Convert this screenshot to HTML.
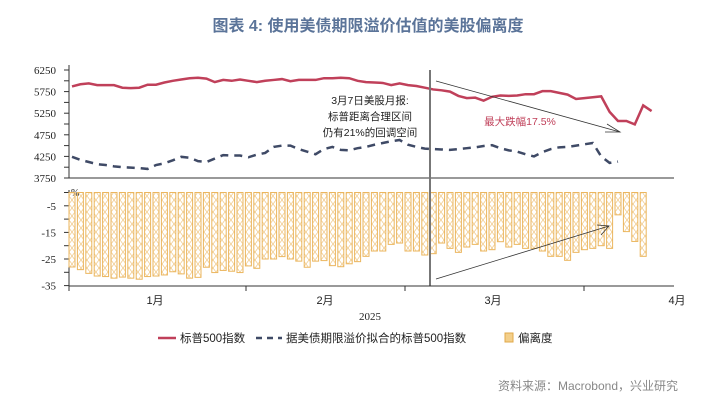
<!DOCTYPE html>
<html><head><meta charset="utf-8">
<style>
html,body{margin:0;padding:0;background:#fff;}
svg{display:block;font-family:"Liberation Serif","Noto Serif CJK SC","Noto Sans CJK SC",serif;}
.cjk{font-family:"Liberation Sans","Noto Sans CJK SC",sans-serif;}
</style></head>
<body>
<svg id="chart" width="727" height="403" viewBox="0 0 727 403">
<defs>
<pattern id="hatch" width="6" height="8" patternUnits="userSpaceOnUse">
<path d="M0,0 L6,8 M6,0 L0,8" stroke="#f0c98a" stroke-width="0.7"/>
</pattern>
</defs>
<text x="368" y="31" text-anchor="middle" class="cjk" font-size="16" font-weight="bold" fill="#5b7499">图表 4:  使用美债期限溢价估值的美股偏离度</text>
<g id="top-axis"></g>
<g id="bottom-axis"></g>
<g id="bars"></g>
<g id="lines"></g>
<line x1="430" y1="70" x2="430" y2="286" stroke="#777" stroke-width="2"/>
<g class="cjk" font-size="10.5" fill="#222" text-anchor="middle">
<text x="370" y="104">3月7日美股月报:</text>
<text x="370" y="120">标普距离合理区间</text>
<text x="370" y="136">仍有21%的回调空间</text>
</g>
<line x1="436" y1="81" x2="620" y2="132" stroke="#333" stroke-width="0.8"/>
<path d="M607,124 L620,132 L605,132" fill="none" stroke="#333" stroke-width="0.8"/>
<text x="520" y="125" text-anchor="middle" class="cjk" font-size="10.5" fill="#c0405a">最大跌幅17.5%</text>
<line x1="436" y1="279" x2="609" y2="226" stroke="#333" stroke-width="0.8"/>
<path d="M597,225 L609,226 L601,235" fill="none" stroke="#333" stroke-width="0.8"/>
<g>
<line x1="69" y1="286" x2="674" y2="286" stroke="#333" stroke-width="1"/>
<line x1="69" y1="286" x2="69" y2="291" stroke="#333"/>
<line x1="246" y1="286" x2="246" y2="291" stroke="#333"/>
<line x1="405" y1="286" x2="405" y2="291" stroke="#333"/>
<line x1="584" y1="286" x2="584" y2="291" stroke="#333"/>
<g font-size="11" fill="#222" text-anchor="middle" class="cjk">
<text x="155" y="304">1月</text><text x="325" y="304">2月</text><text x="493" y="304">3月</text><text x="677" y="304">4月</text>
</g>
<text x="370" y="320" text-anchor="middle" font-size="11" fill="#222">2025</text>
</g>
<g class="cjk" font-size="11.5" fill="#222">
<g><line x1="158" y1="338" x2="176" y2="338" stroke="#c0405a" stroke-width="2.5"/><text x="180" y="342">标普500指数</text></g>
<g><line x1="256" y1="338" x2="282" y2="338" stroke="#3f4a66" stroke-width="2.5" stroke-dasharray="6,5"/><text x="286" y="342">据美债期限溢价拟合的标普500指数</text></g>
<g><rect x="505" y="333" width="8" height="9" fill="#f3cf8a" stroke="#e0a84a"/><text x="518" y="342">偏离度</text></g>
</g>
<text x="678" y="390" text-anchor="end" class="cjk" font-size="12" fill="#888">资料来源：Macrobond，兴业研究</text>
</svg>
<script>
const sp500 = [5870,5920,5940,5900,5900,5900,5840,5830,5840,5910,5910,5960,6000,6030,6060,6070,6050,5970,6020,6000,6030,6000,5970,6000,6020,6040,5990,6020,6020,6020,6060,6060,6070,6060,6000,5970,5960,5950,5900,5940,5900,5880,5840,5800,5780,5750,5650,5600,5610,5540,5630,5660,5650,5660,5690,5690,5760,5760,5720,5680,5580,5600,5620,5640,5280,5070,5070,4990,5430,5300];
const fitted = [4240,4170,4120,4070,4050,4020,4000,3990,3980,3960,4050,4090,4160,4240,4220,4140,4120,4200,4280,4270,4270,4230,4290,4330,4470,4500,4500,4420,4360,4300,4420,4470,4400,4390,4440,4470,4520,4560,4600,4630,4520,4470,4430,4420,4410,4400,4420,4440,4460,4490,4510,4440,4390,4360,4300,4250,4350,4420,4460,4470,4500,4530,4560,4250,4100,4130];
const deviation = [28,29,30.4,31.4,31.6,32.2,31.8,32.2,32.6,31.6,31.4,31,29.8,30.6,32.2,31.9,28.1,30.1,29.3,29.6,30.1,27.6,28.5,25,25,24.1,25,25.8,28.1,25.8,25.6,27.5,27.9,26.8,26,24,22,22,19.5,19,22,22,23.5,23,19,21,22.5,20.5,19.5,22,21.5,18.5,20.5,19.5,21,21,22,24,24,25.5,22.5,21.5,21,20,21,8.4,14.7,18.4,24];
const yTopTicks = [6250,5750,5250,4750,4250,3750];
const yBotTicks = [-5,-15,-25,-35];

const NS="http://www.w3.org/2000/svg";
function mk(tag,attrs,parent){const e=document.createElementNS(NS,tag);for(const k in attrs)e.setAttribute(k,attrs[k]);parent.appendChild(e);return e;}
const xPos=i=>72+i*8.4;
const yTop=v=>70+(6250-v)*0.0432;
const yBot=v=>192.5-v*2.66;

const ta=document.getElementById('top-axis');
mk('line',{x1:69,y1:65,x2:69,y2:178,stroke:'#333'},ta);
mk('line',{x1:69,y1:178,x2:674,y2:178,stroke:'#333'},ta);
for(let v=6250;v>=3750;v-=250){mk('line',{x1:64,y1:yTop(v),x2:69,y2:yTop(v),stroke:'#333'},ta);}
yTopTicks.forEach(v=>{const t=mk('text',{x:56,y:yTop(v)+4,'text-anchor':'end','font-size':11,fill:'#222'},ta);t.textContent=v;

});

const ba=document.getElementById('bottom-axis');
mk('line',{x1:69,y1:190,x2:69,y2:286,stroke:'#333'},ba);
for(let v=0;v>=-35;v-=5){mk('line',{x1:64,y1:yBot(v),x2:69,y2:yBot(v),stroke:'#333'},ba);}
yBotTicks.forEach(v=>{const t=mk('text',{x:56,y:yBot(v)+4,'text-anchor':'end','font-size':11,fill:'#222'},ba);t.textContent=v;

});
const pc=mk('text',{x:71,y:196,'font-size':10,fill:'#222'},ba);pc.textContent='%';

const bg=document.getElementById('bars');
deviation.forEach((d,i)=>{const r=mk('rect',{x:xPos(i)-3,y:yBot(0),width:6,height:yBot(-d)-yBot(0),fill:'url(#hatch)',stroke:'#ebb65e','stroke-width':1},bg);

});

const lg=document.getElementById('lines');
const p1=mk('polyline',{points:sp500.map((v,i)=>xPos(i)+','+yTop(v)).join(' '),fill:'none',stroke:'#c0405a','stroke-width':2.5},lg);


const p2=mk('polyline',{points:fitted.map((v,i)=>xPos(i)+','+yTop(v)).join(' '),fill:'none',stroke:'#3f4a66','stroke-width':2.5,'stroke-dasharray':'8,6'},lg);


</script>
</body></html>
